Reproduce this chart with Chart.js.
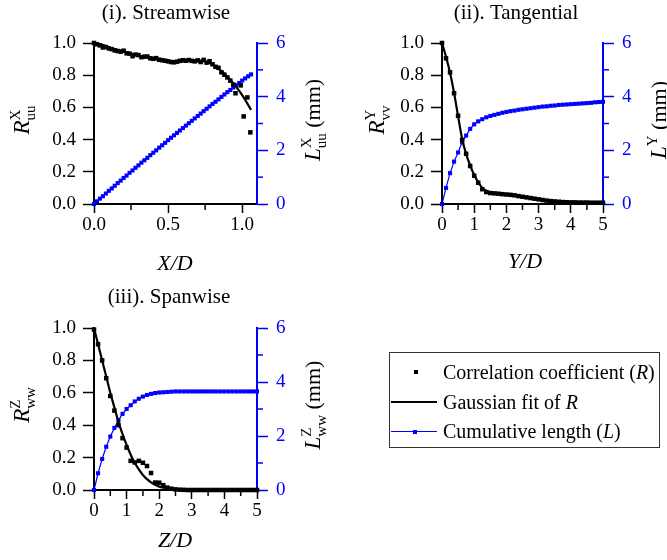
<!DOCTYPE html>
<html>
<head>
<meta charset="utf-8">
<script src="https://cdn.jsdelivr.net/npm/chart.js@4.4.1/dist/chart.umd.min.js"></script>
<style>
html,body{margin:0;padding:0;background:#fff;}
#wrap{position:relative;width:667px;height:560px;overflow:hidden;background:#fff;}
#wrap canvas{position:absolute;left:0;top:0;}
#legend{position:absolute;left:389px;top:352px;width:271px;height:96px;border:1px solid #333;box-sizing:border-box;
  font-family:"Liberation Serif","Times New Roman",serif;font-size:20px;color:#000;}
#legend .row{position:absolute;left:0;height:30px;width:100%;}
#legend .txt{position:absolute;left:53px;top:50%;transform:translateY(-50%);white-space:nowrap;line-height:1;}
#legend .sq{position:absolute;width:4px;height:4px;left:24px;top:13px;background:#000;}
#legend .ln{position:absolute;left:1px;width:46px;}
</style>
</head>
<body>
<div id="wrap">
  <canvas id="c1" width="667" height="560"></canvas>
  <canvas id="c2" width="667" height="560"></canvas>
  <canvas id="c3" width="667" height="560"></canvas>
  <div id="legend">
    <div class="row" style="top:4px"><span class="sq"></span><span class="txt">Correlation coefficient (<i>R</i>)</span></div>
    <div class="row" style="top:34px"><span class="ln" style="top:14px;height:2px;background:#000"></span><span class="txt">Gaussian fit of <i>R</i></span></div>
    <div class="row" style="top:63px"><span class="ln" style="top:15px;height:1px;background:#0000ff"></span><span class="sq" style="background:#0000ff;left:23px;top:13.5px"></span><span class="txt">Cumulative length (<i>L</i>)</span></div>
  </div>
</div>
<script>
// ---------- data ----------
// (i) Streamwise
const streamPtsX = [0.00,0.02,0.04,0.06,0.08,0.10,0.12,0.14,0.16,0.18,0.20,0.22,0.24,0.26,0.28,0.30,0.32,0.34,0.36,0.38,0.40,0.42,0.44,0.46,0.48,0.50,0.52,0.54,0.56,0.58,0.60,0.62,0.64,0.66,0.68,0.70,0.72,0.74,0.76,0.78,0.80,0.82,0.84,0.86,0.88,0.90,0.92,0.94,0.955,0.99,1.01,1.035,1.055];
const streamPtsR = [1.000,0.992,0.985,0.972,0.975,0.966,0.962,0.954,0.950,0.946,0.952,0.936,0.934,0.918,0.928,0.925,0.912,0.915,0.916,0.905,0.902,0.906,0.896,0.893,0.890,0.886,0.882,0.880,0.884,0.889,0.893,0.890,0.894,0.889,0.886,0.892,0.882,0.895,0.878,0.887,0.868,0.852,0.846,0.818,0.803,0.786,0.766,0.742,0.688,0.737,0.544,0.662,0.445];
const streamFitX = [0.00,0.05,0.10,0.15,0.20,0.25,0.30,0.35,0.40,0.45,0.50,0.55,0.60,0.65,0.70,0.75,0.80,0.85,0.90,0.95,1.00,1.06];
const streamFitR = [1.000,0.990,0.974,0.960,0.947,0.934,0.922,0.911,0.902,0.894,0.888,0.885,0.887,0.891,0.891,0.885,0.866,0.833,0.790,0.738,0.676,0.585];
const streamLenX = [0.00,0.02,0.04,0.06,0.08,0.10,0.12,0.14,0.16,0.18,0.20,0.22,0.24,0.26,0.28,0.30,0.32,0.34,0.36,0.38,0.40,0.42,0.44,0.46,0.48,0.50,0.52,0.54,0.56,0.58,0.60,0.62,0.64,0.66,0.68,0.70,0.72,0.74,0.76,0.78,0.80,0.82,0.84,0.86,0.88,0.90,0.92,0.94,0.96,0.98,1.00,1.02,1.04,1.06];
const streamLenL = [0.00,0.10,0.20,0.29,0.39,0.49,0.58,0.68,0.78,0.87,0.97,1.06,1.16,1.25,1.35,1.44,1.54,1.63,1.72,1.82,1.91,2.00,2.10,2.19,2.28,2.38,2.47,2.56,2.65,2.74,2.83,2.92,3.01,3.10,3.19,3.28,3.37,3.46,3.55,3.64,3.73,3.81,3.90,3.99,4.08,4.17,4.25,4.34,4.43,4.51,4.60,4.68,4.76,4.83];

// (ii) Tangential and (iii) Spanwise share the separation grid
const sepX = [0,0.125,0.25,0.375,0.5,0.625,0.75,0.875,1,1.125,1.25,1.375,1.5,1.625,1.75,1.875,2,2.125,2.25,2.375,2.5,2.625,2.75,2.875,3,3.125,3.25,3.375,3.5,3.625,3.75,3.875,4,4.125,4.25,4.375,4.5,4.625,4.75,4.875,5];
const tangPtsR = [1.000,0.905,0.818,0.688,0.548,0.398,0.312,0.236,0.176,0.132,0.092,0.074,0.068,0.066,0.064,0.061,0.059,0.057,0.054,0.049,0.045,0.041,0.037,0.033,0.029,0.025,0.021,0.018,0.016,0.014,0.012,0.011,0.010,0.010,0.009,0.009,0.009,0.008,0.008,0.008,0.008];
const tangFitR = [1.000,0.915,0.815,0.690,0.545,0.405,0.310,0.240,0.180,0.135,0.100,0.082,0.072,0.068,0.065,0.062,0.060,0.058,0.055,0.050,0.046,0.042,0.038,0.034,0.030,0.026,0.022,0.019,0.016,0.014,0.012,0.011,0.010,0.010,0.009,0.009,0.009,0.008,0.008,0.008,0.008];
const tangLenL = [0.00,0.60,1.15,1.58,1.92,2.30,2.55,2.80,2.97,3.08,3.16,3.23,3.28,3.32,3.36,3.40,3.43,3.46,3.48,3.51,3.53,3.55,3.57,3.59,3.61,3.63,3.64,3.66,3.67,3.69,3.70,3.71,3.72,3.73,3.74,3.75,3.76,3.77,3.79,3.80,3.81];
const spanPtsR = [0.990,0.900,0.800,0.690,0.580,0.490,0.400,0.320,0.262,0.180,0.170,0.180,0.168,0.148,0.105,0.046,0.045,0.030,0.015,0.008,0.004,0.002,0.001,0,0,0,0,0,0,0,0,0,0,0,0,0,0,0,0,0,0];
const spanFitR = [1.000,0.900,0.800,0.700,0.600,0.510,0.420,0.345,0.278,0.218,0.168,0.127,0.093,0.067,0.047,0.032,0.021,0.014,0.009,0.005,0.003,0.002,0.001,0,0,0,0,0,0,0,0,0,0,0,0,0,0,0,0,0,0];
const spanLenL = [0.00,0.62,1.15,1.60,1.98,2.30,2.58,2.82,3.00,3.14,3.28,3.38,3.46,3.52,3.56,3.59,3.61,3.62,3.63,3.64,3.65,3.65,3.65,3.65,3.65,3.65,3.65,3.65,3.65,3.65,3.65,3.65,3.65,3.65,3.65,3.65,3.65,3.65,3.65,3.65,3.65];

// tick labels
const rTicks = [0,0.2,0.4,0.6,0.8,1.0];
const lTicks = [0,2,4,6];
const lMinor = [1,3,5];
const streamXTicks = [0,0.5,1.0];
const streamXMinor = [0.25,0.75];
const sepXTicks = [0,1,2,3,4,5];
const sepXMinor = [0.5,1.5,2.5,3.5,4.5];

// ---------- drawing ----------
const SERIF = '"Liberation Serif","Times New Roman",serif';
const BLUE = '#0000ff';
const W = 667, H = 560;
const zip = (xs, ys) => xs.map((x, i) => ({x: x, y: ys[i]}));

function drawRich(ctx, x, y, parts) {
  const widths = [];
  let total = 0;
  for (const p of parts) {
    let w = 0;
    if (p.stack) { for (const s of p.stack) { ctx.font = s.f; w = Math.max(w, ctx.measureText(s.t).width); } }
    else { ctx.font = p.f; w = ctx.measureText(p.t).width; }
    widths.push(w); total += w;
  }
  ctx.save();
  ctx.translate(x, y);
  ctx.rotate(-Math.PI / 2);
  ctx.textAlign = 'left';
  ctx.textBaseline = 'alphabetic';
  ctx.fillStyle = '#000';
  let cx = -total / 2;
  parts.forEach((p, i) => {
    if (p.stack) { for (const s of p.stack) { ctx.font = s.f; ctx.fillText(s.t, cx, s.dy); } }
    else { ctx.font = p.f; ctx.fillText(p.t, cx, p.dy || 0); }
    cx += widths[i];
  });
  ctx.restore();
}

const BIG = 'italic 23px ' + SERIF;
const SMALL = '15px ' + SERIF;
const MM = '22px ' + SERIF;

function makeChart(id, g) {
  const deco = {
    id: 'deco',
    afterDraw(chart) {
      const ctx = chart.ctx;
      const xs = chart.scales.x, y2 = chart.scales.y2;
      // minor ticks
      ctx.save();
      ctx.lineWidth = 1.5;
      ctx.strokeStyle = '#000';
      for (const v of g.xMinor) {
        const px = xs.getPixelForValue(v);
        ctx.beginPath(); ctx.moveTo(px, xs.top); ctx.lineTo(px, xs.top + 6); ctx.stroke();
      }
      ctx.strokeStyle = BLUE;
      for (const v of lMinor) {
        const py = y2.getPixelForValue(v);
        ctx.beginPath(); ctx.moveTo(y2.left, py); ctx.lineTo(y2.left + 6, py); ctx.stroke();
      }
      // titles
      ctx.fillStyle = '#000';
      ctx.textAlign = 'center';
      ctx.textBaseline = 'alphabetic';
      ctx.font = '21px ' + SERIF;
      ctx.fillText(g.title, g.titleX, g.titleY);
      ctx.font = 'italic 22px ' + SERIF;
      ctx.fillText(g.xTitle, g.xTitleX, g.xTitleY);
      ctx.restore();
      drawRich(ctx, g.lTitleX, g.yTitleY, [
        {t: 'R', f: BIG},
        {stack: [{t: g.sup, f: SMALL, dy: -9}, {t: g.subR, f: SMALL, dy: 6}]}
      ]);
      const rparts = [{t: 'L', f: BIG}];
      const st = [{t: g.sup, f: SMALL, dy: -9}];
      if (g.subL) st.push({t: g.subL, f: SMALL, dy: 6});
      rparts.push({stack: st});
      rparts.push({t: ' (mm)', f: MM});
      drawRich(ctx, g.rTitleX, g.yTitleY, rparts);
    }
  };
  const tickFont = {family: SERIF, size: 19};
  return new Chart(document.getElementById(id), {
    type: 'scatter',
    data: {
      datasets: [
        {label: 'Gaussian fit of R', data: g.fit, showLine: true, borderColor: '#000', borderWidth: 2.2,
         pointRadius: 0, fill: false, cubicInterpolationMode: 'monotone', clip: false, order: 1},
        {label: 'Correlation coefficient (R)', data: g.pts, showLine: false, pointStyle: 'rect', pointRadius: 3.2,
         pointBackgroundColor: '#000', pointBorderWidth: 0, clip: false, order: 2},
        {label: 'Cumulative length (L)', data: g.len, yAxisID: 'y2', showLine: true, borderColor: BLUE, borderWidth: 1.2,
         pointStyle: 'rect', pointRadius: 2.9, pointBackgroundColor: BLUE, pointBorderWidth: 0, clip: false, order: 3}
      ]
    },
    options: {
      responsive: false, animation: false, events: [],
      layout: {padding: {left: 0, top: g.top, right: W - g.right - 60, bottom: H - g.bottom - 50}},
      plugins: {legend: {display: false}, tooltip: {enabled: false}, title: {display: false}},
      scales: {
        x: {
          type: 'linear', position: 'bottom', min: 0, max: g.xMax,
          afterBuildTicks: s => { s.ticks = g.xTicks.map(v => ({value: v})); },
          afterFit: s => { s.height = 50; },
          ticks: {callback: g.xFmt, font: tickFont, color: '#000', padding: 1, maxRotation: 0, autoSkip: false},
          grid: {drawOnChartArea: false, drawTicks: true, tickLength: 9, tickColor: '#000', tickWidth: 1.5},
          border: {display: true, color: '#000', width: 2}
        },
        y: {
          type: 'linear', position: 'left', min: 0, max: 1,
          afterBuildTicks: s => { s.ticks = rTicks.map(v => ({value: v})); },
          afterFit: s => { s.width = g.left; },
          ticks: {callback: v => v.toFixed(1), font: tickFont, color: '#000', padding: 7, autoSkip: false},
          grid: {drawOnChartArea: false, drawTicks: true, tickLength: 11, tickColor: '#000', tickWidth: 1.5},
          border: {display: true, color: '#000', width: 2}
        },
        y2: {
          type: 'linear', position: 'right', min: 0, max: 6,
          afterBuildTicks: s => { s.ticks = lTicks.map(v => ({value: v})); },
          afterFit: s => { s.width = 60; },
          ticks: {callback: v => String(v), font: tickFont, color: BLUE, padding: 8, autoSkip: false},
          grid: {drawOnChartArea: false, drawTicks: true, tickLength: 11, tickColor: BLUE, tickWidth: 1.5},
          border: {display: true, color: BLUE, width: 2}
        }
      }
    },
    plugins: [deco]
  });
}

makeChart('c1', {
  left: 94, right: 257, top: 43, bottom: 204, xMax: 1.1,
  xTicks: streamXTicks, xMinor: streamXMinor, xFmt: v => v.toFixed(1),
  fit: zip(streamFitX, streamFitR), pts: zip(streamPtsX, streamPtsR), len: zip(streamLenX, streamLenL),
  title: '(i). Streamwise', titleX: 166, titleY: 19,
  xTitle: 'X/D', xTitleX: 175, xTitleY: 270,
  lTitleX: 29, rTitleX: 320, yTitleY: 120, sup: 'X', subR: 'uu', subL: 'uu'
});
makeChart('c2', {
  left: 442, right: 603, top: 43, bottom: 204, xMax: 5,
  xTicks: sepXTicks, xMinor: sepXMinor, xFmt: v => String(v),
  fit: zip(sepX, tangFitR), pts: zip(sepX, tangPtsR), len: zip(sepX, tangLenL),
  title: '(ii). Tangential', titleX: 516, titleY: 19,
  xTitle: 'Y/D', xTitleX: 525, xTitleY: 268,
  lTitleX: 384, rTitleX: 666, yTitleY: 120, sup: 'Y', subR: 'vv', subL: ''
});
makeChart('c3', {
  left: 94, right: 257, top: 328, bottom: 490, xMax: 5,
  xTicks: sepXTicks, xMinor: sepXMinor, xFmt: v => String(v),
  fit: zip(sepX, spanFitR), pts: zip(sepX, spanPtsR), len: zip(sepX, spanLenL),
  title: '(iii). Spanwise', titleX: 169, titleY: 303,
  xTitle: 'Z/D', xTitleX: 175, xTitleY: 547,
  lTitleX: 29, rTitleX: 320, yTitleY: 405, sup: 'Z', subR: 'ww', subL: 'ww'
});
</script>
</body>
</html>
